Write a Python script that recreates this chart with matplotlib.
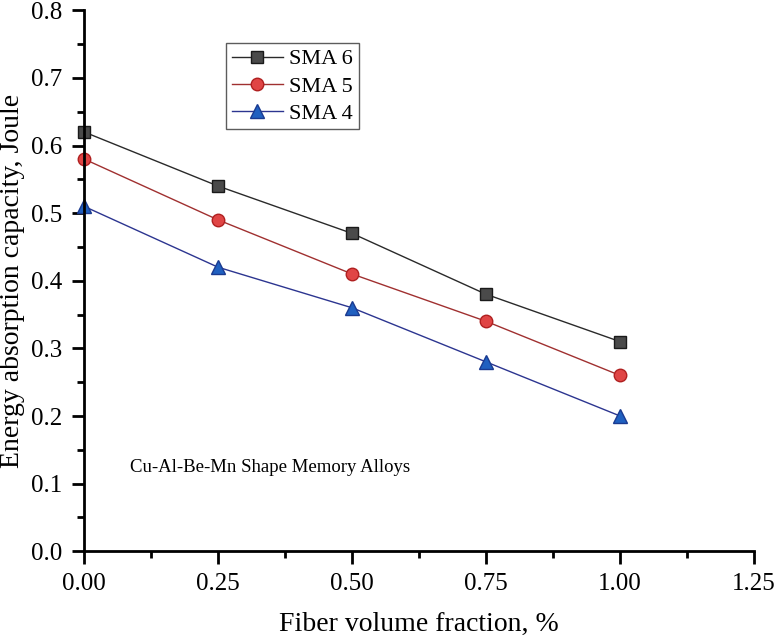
import matplotlib
matplotlib.use("Agg")
from matplotlib import pyplot as plt
from matplotlib.ticker import MultipleLocator

plt.rcParams['font.family'] = ['Liberation Serif', 'DejaVu Serif']

# fiber volume fraction (%)
fraction = [0.0, 0.25, 0.50, 0.75, 1.00]

# energy absorption capacity (Joule)
sma6 = [0.62, 0.54, 0.47, 0.38, 0.31]
sma5 = [0.58, 0.49, 0.41, 0.34, 0.26]
sma4 = [0.51, 0.42, 0.36, 0.28, 0.20]

fig = plt.figure(figsize=(7.79, 6.41), dpi=100)
ax = fig.add_axes([0.108, 0.140, 0.860, 0.844])

ax.plot(fraction, sma6, '-s', color='#2a2a2a', lw=1.0, ms=9,
        mfc='#4a4a4a', mec='#1a1a1a', mew=1.0, label='SMA 6', clip_on=False)
ax.plot(fraction, sma5, '-o', color='#a03030', lw=1.0, ms=9,
        mfc='#e04545', mec='#b02020', mew=1.0, label='SMA 5', clip_on=False)
ax.plot(fraction, sma4, '-^', color='#2c3590', lw=1.0, ms=10,
        mfc='#2060c0', mec='#1a3a90', mew=1.0, label='SMA 4', clip_on=False)

ax.set_xlim(0, 1.25)
ax.set_ylim(0, 0.8)
ax.xaxis.set_major_locator(MultipleLocator(0.25))
ax.xaxis.set_minor_locator(MultipleLocator(0.125))
ax.yaxis.set_major_locator(MultipleLocator(0.1))
ax.yaxis.set_minor_locator(MultipleLocator(0.05))
ax.xaxis.set_major_formatter(plt.FormatStrFormatter('%.2f'))
ax.yaxis.set_major_formatter(plt.FormatStrFormatter('%.1f'))

for side in ['top', 'right']:
    ax.spines[side].set_visible(False)
for side in ['left', 'bottom']:
    ax.spines[side].set_linewidth(2)

ax.tick_params(which='major', direction='out', length=9, width=2, labelsize=18, pad=7)
ax.tick_params(which='minor', direction='out', length=5, width=2)

ax.set_xlabel('Fiber volume fraction, %', fontsize=20, labelpad=12)
ax.set_ylabel('Energy absorption capacity, Joule', fontsize=20, labelpad=4)

ax.text(0.086, 0.124, 'Cu-Al-Be-Mn Shape Memory Alloys', fontsize=13.5, va='center')

leg = ax.legend(loc='upper left', bbox_to_anchor=(0.212, 0.939), fontsize=16,
                frameon=True, fancybox=False, edgecolor='#333333',
                handlelength=2.3, borderpad=0.25, labelspacing=0.3,
                handletextpad=0.3, borderaxespad=0)
leg.get_frame().set_linewidth(1.0)

fig.savefig('out.png', dpi=100)
